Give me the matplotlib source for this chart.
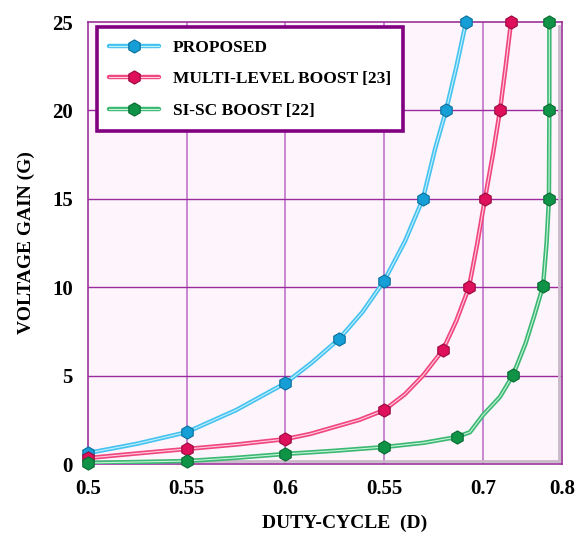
import matplotlib.pyplot as plt
from matplotlib.legend_handler import HandlerTuple

plt.rcParams['font.family'] = ['Liberation Serif', 'DejaVu Serif']
plt.rcParams['font.weight'] = 'bold'

# axis ticks (the last tick sits at the right edge and is labelled 0.8 in the original)
x_ticks = [0.5, 0.55, 0.6, 0.65, 0.7, 0.74]
x_tick_labels = ['0.5', '0.55', '0.6', '0.55', '0.7', '0.8']
y_ticks = [0, 5, 10, 15, 20, 25]

series_names = ['PROPOSED', 'MULTI-LEVEL BOOST [23]', 'SI-SC BOOST [22]']

# marker points
prop_x = [0.5, 0.55, 0.6, 0.6271, 0.6499, 0.6696, 0.6813, 0.6914]
prop_y = [0.62, 1.8, 4.58, 7.07, 10.35, 15, 20, 25]
ml_x = [0.5, 0.55, 0.6, 0.65, 0.6797, 0.6929, 0.701, 0.7086, 0.7142]
ml_y = [0.34, 0.85, 1.41, 3.05, 6.45, 10, 15, 20, 25]
sisc_x = [0.5, 0.55, 0.6, 0.65, 0.6868, 0.7152, 0.7304, 0.7334, 0.7336, 0.7336]
sisc_y = [0.06, 0.17, 0.57, 0.96, 1.53, 5.03, 10.07, 15, 20, 25]

# curve points
prop_line_x = [0.5, 0.525, 0.55, 0.575, 0.6, 0.6135, 0.6271, 0.639, 0.6499,
               0.6605, 0.6696, 0.6757, 0.6813, 0.6866, 0.6914]
prop_line_y = [0.62, 1.15, 1.8, 3.05, 4.58, 5.75, 7.07, 8.6, 10.35,
               12.6, 15, 17.8, 20, 22.5, 25]
ml_line_x = [0.5, 0.525, 0.55, 0.575, 0.6, 0.6125, 0.625, 0.6375, 0.65, 0.6605,
             0.6696, 0.6797, 0.6865, 0.6929, 0.697, 0.701, 0.705, 0.7086, 0.7115, 0.7142]
ml_line_y = [0.34, 0.6, 0.85, 1.1, 1.41, 1.7, 2.1, 2.5, 3.05, 3.95,
             5.0, 6.45, 8.1, 10, 12.4, 15, 17.5, 20, 22.5, 25]
sisc_line_x = [0.5, 0.55, 0.575, 0.6, 0.625, 0.65, 0.67, 0.6868, 0.6934, 0.7,
               0.7086, 0.7152, 0.7215, 0.726, 0.7304, 0.7322, 0.7334, 0.7336, 0.7336]
sisc_line_y = [0.06, 0.17, 0.35, 0.57, 0.75, 0.96, 1.2, 1.53, 1.8, 2.77,
               3.8, 5.03, 6.8, 8.4, 10.07, 12.5, 15, 20, 25]

line_colors = ['#45c3ef', '#f0457e', '#3db873']
core_colors = ['#c8f0ff', '#ffd0e0', '#c8f5dc']
marker_colors = ['#169fd6', '#de0f5b', '#0f9447']
marker_edges = ['#0a6f9a', '#9a0a3e', '#0a6a32']

fig = plt.figure(figsize=(5.78, 5.36), dpi=100)
ax = fig.add_axes([0.1522, 0.1343, 0.8201, 0.8246])
ax.set_facecolor('#fdf4fc')

handles = []
data = [(prop_line_x, prop_line_y, prop_x, prop_y),
        (ml_line_x, ml_line_y, ml_x, ml_y),
        (sisc_line_x, sisc_line_y, sisc_x, sisc_y)]
for i, (lx, ly, mx, my) in enumerate(data):
    wide, = ax.plot(lx, ly, color=line_colors[i], lw=3.2, solid_capstyle='round',
                    solid_joinstyle='round', zorder=3)
    thin, = ax.plot(lx, ly, color=core_colors[i], lw=0.8, solid_joinstyle='round', zorder=4)
    mk, = ax.plot(mx, my, ls='none', marker='h', ms=9.5, mfc=marker_colors[i],
                  mec=marker_edges[i], mew=0.8, zorder=5, clip_on=False)
    handles.append((wide, thin, mk))

ax.set_xlim(0.5, 0.74)
ax.set_ylim(0, 25)
ax.set_xticks(x_ticks)
ax.set_xticklabels(x_tick_labels)
ax.set_yticks(y_ticks)
ax.tick_params(length=0, labelsize=15, pad=11)
for lab in ax.get_xticklabels() + ax.get_yticklabels():
    lab.set_fontweight('bold')

for xv in x_ticks[1:-1]:
    ax.axvline(xv, color='#c274cc', lw=1.2, zorder=1)
for yv in y_ticks[1:-1]:
    ax.axhline(yv, color='#9c2c9c', lw=1.0, zorder=1)

# frame with a grey inner shadow on the right and bottom
for sp in ax.spines.values():
    sp.set_color('#993399')
    sp.set_linewidth(1.2)
ax.plot([0.004, 0.993], [0.006, 0.006], transform=ax.transAxes, color='#c9b9c9', lw=2, zorder=2)
ax.plot([0.993, 0.993], [0.006, 0.99], transform=ax.transAxes, color='#c9b9c9', lw=2, zorder=2)

fig.text(345 / 578, 1 - 523 / 536, 'DUTY-CYCLE  (D)', fontsize=14, fontweight='bold',
         ha='center', va='center')
fig.text(26 / 578, 1 - 243 / 536, 'VOLTAGE GAIN (G)', fontsize=14, fontweight='bold',
         ha='center', va='center', rotation=90)

leg = ax.legend(handles, series_names, handler_map={tuple: HandlerTuple(ndivide=1)},
                loc='upper left', bbox_to_anchor=(0.018, 0.988), fontsize=12.5,
                handlelength=2.9, handletextpad=0.8, labelspacing=0.9,
                borderpad=0.7, fancybox=False, framealpha=1, borderaxespad=0)
leg.get_frame().set_edgecolor('#800080')
leg.get_frame().set_linewidth(2.6)
for t in leg.get_texts():
    t.set_fontweight('bold')

fig.savefig('out.png', dpi=100)
